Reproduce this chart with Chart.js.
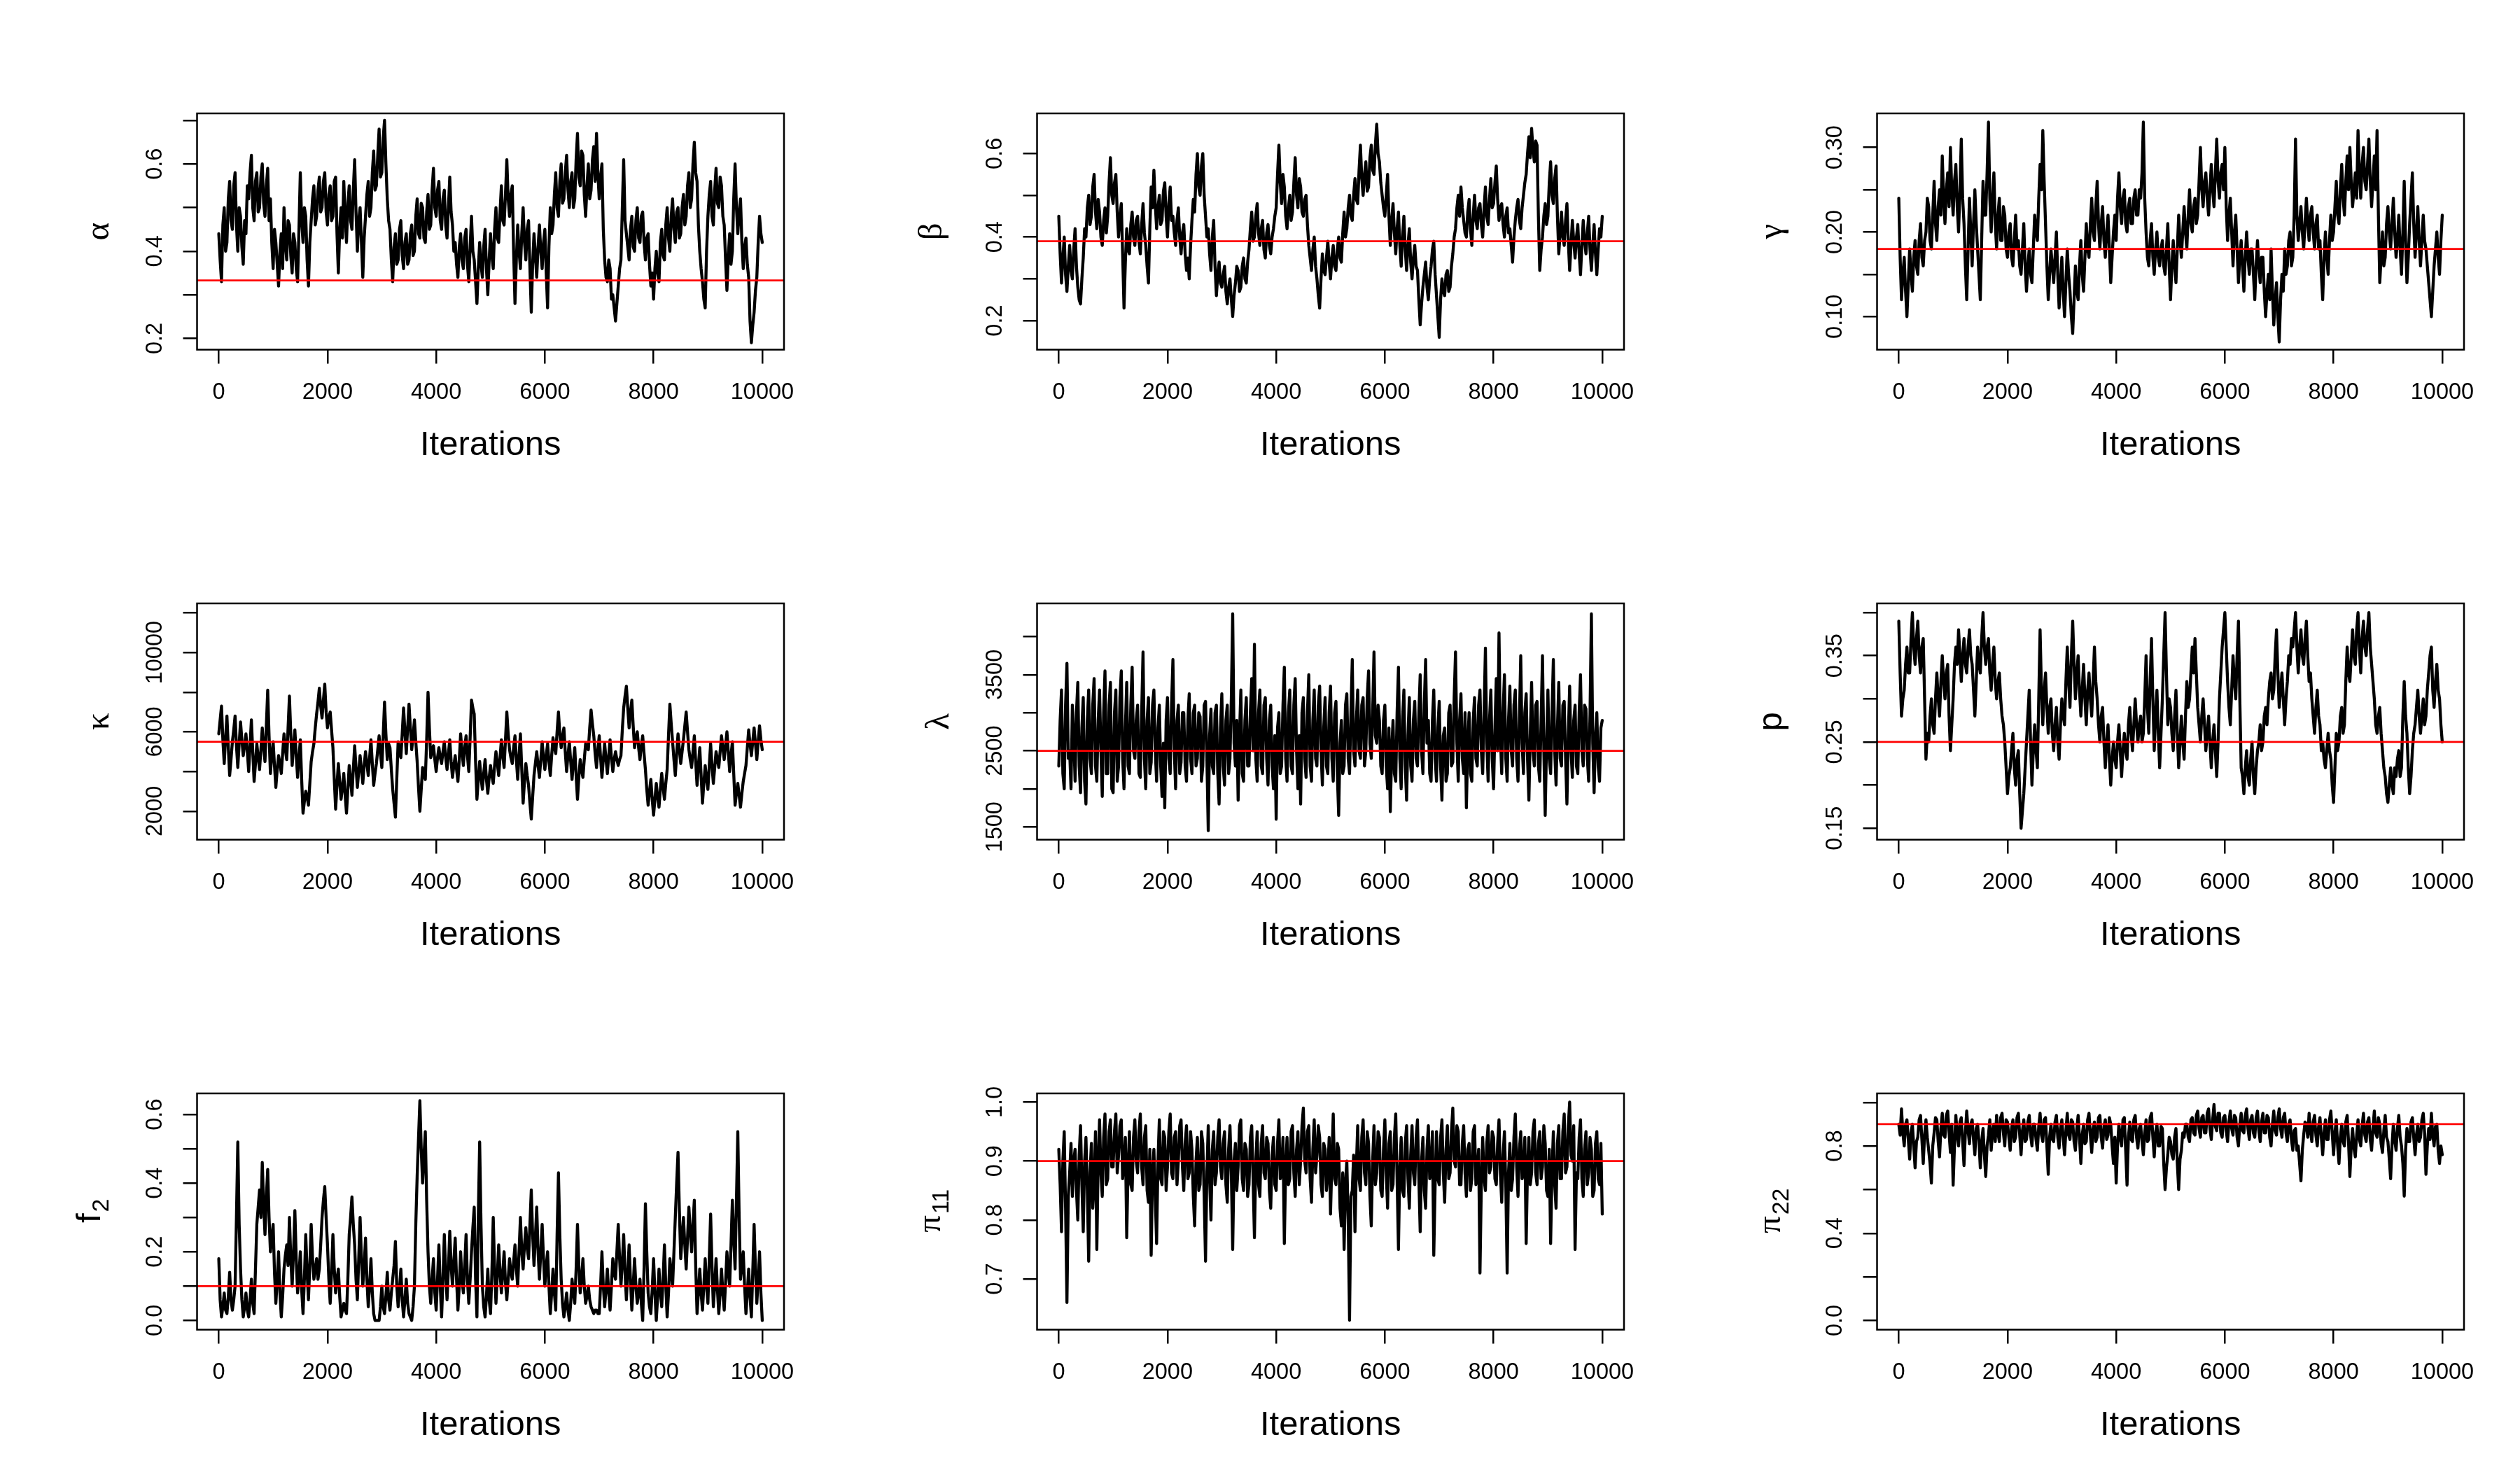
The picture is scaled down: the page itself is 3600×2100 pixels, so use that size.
<!DOCTYPE html>
<html>
<head>
<meta charset="utf-8">
<script src="https://cdn.jsdelivr.net/npm/chart.js@4.4.1/dist/chart.umd.min.js"></script>
<style>
html,body{margin:0;padding:0;background:#fff;width:3600px;height:2100px;overflow:hidden}
canvas{position:absolute}
</style>
</head>
<body>
<script>
// ---------- data (values evenly spaced over iterations 0..10000) ----------
const lastIteration = 10000;
const xTicks = [0, 2000, 4000, 6000, 8000, 10000];
const xTickLabels = ['0', '2000', '4000', '6000', '8000', '10000'];
const xTitle = 'Iterations';

const alphaVals = [0.44,0.38,0.33,0.46,0.50,0.40,0.42,0.52,0.56,0.47,0.45,0.55,0.58,0.46,0.40,0.50,0.48,0.41,0.37,0.47,
0.44,0.55,0.52,0.58,0.62,0.50,0.47,0.56,0.58,0.49,0.50,0.57,0.60,0.51,0.48,0.55,0.59,0.47,0.52,0.42,
0.36,0.45,0.42,0.37,0.32,0.40,0.44,0.36,0.50,0.42,0.38,0.47,0.46,0.39,0.35,0.44,0.42,0.36,0.33,0.45,
0.58,0.47,0.42,0.50,0.48,0.38,0.32,0.42,0.47,0.52,0.55,0.46,0.48,0.54,0.57,0.49,0.50,0.56,0.58,0.49,
0.46,0.53,0.55,0.47,0.48,0.56,0.57,0.44,0.35,0.45,0.50,0.43,0.56,0.48,0.42,0.51,0.55,0.47,0.45,0.54,
0.61,0.49,0.40,0.47,0.50,0.42,0.34,0.43,0.48,0.53,0.56,0.48,0.50,0.58,0.63,0.54,0.55,0.62,0.68,0.57,
0.58,0.66,0.70,0.60,0.52,0.47,0.45,0.38,0.33,0.41,0.44,0.37,0.38,0.45,0.47,0.39,0.36,0.42,0.44,0.37,
0.38,0.44,0.46,0.39,0.40,0.48,0.52,0.44,0.43,0.51,0.50,0.43,0.42,0.49,0.53,0.45,0.46,0.54,0.59,0.50,
0.48,0.54,0.56,0.47,0.45,0.52,0.54,0.46,0.43,0.50,0.57,0.49,0.46,0.40,0.42,0.37,0.34,0.41,0.44,0.38,
0.36,0.43,0.45,0.37,0.33,0.41,0.48,0.40,0.38,0.33,0.28,0.36,0.42,0.37,0.34,0.41,0.45,0.36,0.30,0.38,
0.44,0.39,0.36,0.45,0.50,0.43,0.42,0.49,0.55,0.47,0.46,0.53,0.61,0.52,0.48,0.53,0.55,0.40,0.28,0.38,
0.46,0.40,0.36,0.44,0.50,0.42,0.38,0.45,0.47,0.36,0.26,0.37,0.44,0.39,0.34,0.41,0.46,0.40,0.36,0.42,
0.45,0.35,0.27,0.41,0.50,0.44,0.46,0.53,0.58,0.50,0.48,0.56,0.60,0.51,0.52,0.58,0.62,0.54,0.50,0.56,
0.58,0.50,0.52,0.61,0.67,0.57,0.55,0.63,0.62,0.53,0.48,0.55,0.60,0.52,0.54,0.61,0.64,0.56,0.67,0.58,
0.52,0.57,0.60,0.45,0.38,0.34,0.33,0.38,0.36,0.29,0.30,0.27,0.24,0.28,0.32,0.36,0.38,0.50,0.61,0.47,
0.44,0.41,0.38,0.45,0.48,0.41,0.40,0.47,0.50,0.43,0.42,0.48,0.49,0.42,0.38,0.43,0.44,0.37,0.32,0.35,
0.29,0.36,0.40,0.35,0.33,0.42,0.45,0.39,0.38,0.46,0.50,0.43,0.40,0.48,0.52,0.45,0.42,0.49,0.50,0.43,
0.44,0.50,0.53,0.46,0.48,0.55,0.58,0.50,0.52,0.60,0.65,0.58,0.56,0.46,0.40,0.36,0.33,0.29,0.27,0.40,
0.48,0.53,0.56,0.48,0.46,0.54,0.59,0.51,0.50,0.57,0.55,0.48,0.46,0.38,0.31,0.39,0.44,0.37,0.40,0.52,
0.60,0.50,0.44,0.49,0.52,0.42,0.36,0.41,0.43,0.37,0.34,0.24,0.19,0.23,0.26,0.31,0.34,0.42,0.48,0.44,
0.42];

const betaVals = [0.45,0.36,0.29,0.35,0.40,0.31,0.27,0.33,0.38,0.32,0.30,0.37,0.42,0.33,0.28,0.25,0.24,0.30,0.35,0.42,
0.40,0.47,0.50,0.43,0.45,0.52,0.55,0.46,0.42,0.49,0.46,0.40,0.38,0.44,0.47,0.41,0.45,0.53,0.59,0.50,
0.48,0.53,0.55,0.46,0.40,0.45,0.48,0.36,0.23,0.34,0.42,0.37,0.36,0.43,0.46,0.40,0.38,0.44,0.45,0.39,
0.36,0.43,0.48,0.41,0.38,0.33,0.29,0.42,0.52,0.47,0.56,0.48,0.42,0.47,0.50,0.43,0.44,0.51,0.53,0.45,
0.40,0.48,0.52,0.44,0.45,0.41,0.38,0.44,0.47,0.40,0.36,0.41,0.43,0.36,0.32,0.35,0.30,0.38,0.44,0.49,
0.46,0.55,0.60,0.52,0.50,0.57,0.60,0.50,0.45,0.40,0.42,0.36,0.32,0.40,0.44,0.33,0.26,0.31,0.34,0.29,
0.28,0.31,0.33,0.27,0.24,0.28,0.30,0.25,0.21,0.26,0.29,0.33,0.32,0.27,0.28,0.33,0.35,0.30,0.29,0.34,
0.37,0.42,0.46,0.39,0.40,0.45,0.48,0.41,0.38,0.42,0.44,0.37,0.35,0.41,0.43,0.38,0.36,0.40,0.42,0.45,
0.47,0.55,0.62,0.53,0.48,0.55,0.52,0.45,0.42,0.47,0.50,0.44,0.46,0.53,0.59,0.50,0.47,0.54,0.52,0.46,
0.45,0.49,0.50,0.43,0.38,0.35,0.32,0.37,0.40,0.33,0.30,0.26,0.23,0.30,0.36,0.32,0.31,0.35,0.39,0.34,
0.30,0.35,0.38,0.33,0.32,0.37,0.40,0.35,0.34,0.41,0.46,0.40,0.42,0.47,0.50,0.45,0.44,0.50,0.54,0.49,
0.48,0.56,0.62,0.54,0.50,0.55,0.58,0.51,0.52,0.59,0.62,0.56,0.55,0.62,0.67,0.60,0.58,0.53,0.50,0.47,
0.45,0.50,0.55,0.45,0.38,0.44,0.48,0.41,0.36,0.42,0.46,0.38,0.33,0.40,0.45,0.37,0.32,0.38,0.42,0.34,
0.30,0.35,0.38,0.33,0.32,0.25,0.19,0.24,0.28,0.31,0.34,0.28,0.25,0.30,0.33,0.37,0.39,0.31,0.26,0.21,
0.16,0.25,0.30,0.27,0.26,0.31,0.32,0.27,0.28,0.33,0.36,0.40,0.42,0.47,0.50,0.45,0.52,0.47,0.44,0.41,
0.40,0.46,0.49,0.42,0.38,0.45,0.50,0.44,0.42,0.47,0.48,0.43,0.40,0.47,0.52,0.45,0.43,0.49,0.54,0.47,
0.48,0.53,0.57,0.49,0.44,0.47,0.48,0.43,0.40,0.45,0.47,0.41,0.42,0.38,0.34,0.40,0.44,0.47,0.49,0.44,
0.42,0.47,0.50,0.53,0.55,0.60,0.64,0.59,0.66,0.61,0.58,0.63,0.62,0.45,0.32,0.37,0.40,0.45,0.48,0.43,
0.45,0.53,0.58,0.50,0.48,0.54,0.57,0.45,0.36,0.41,0.46,0.40,0.38,0.44,0.48,0.39,0.32,0.38,0.44,0.39,
0.35,0.40,0.43,0.36,0.31,0.38,0.44,0.39,0.36,0.41,0.45,0.37,0.32,0.38,0.43,0.36,0.31,0.37,0.42,0.40,
0.45];

const gammaVals = [0.24,0.17,0.12,0.15,0.17,0.13,0.10,0.14,0.18,0.15,0.13,0.17,0.19,0.16,0.15,0.19,0.21,0.17,0.16,0.19,
0.20,0.24,0.23,0.19,0.18,0.22,0.26,0.21,0.19,0.23,0.25,0.22,0.29,0.24,0.21,0.25,0.27,0.23,0.30,0.25,
0.22,0.26,0.28,0.23,0.20,0.25,0.31,0.24,0.21,0.16,0.12,0.18,0.24,0.20,0.16,0.21,0.25,0.21,0.18,0.15,
0.12,0.19,0.26,0.22,0.22,0.27,0.33,0.24,0.20,0.24,0.27,0.21,0.18,0.22,0.24,0.19,0.19,0.23,0.22,0.18,
0.17,0.20,0.21,0.17,0.16,0.19,0.22,0.18,0.19,0.16,0.15,0.18,0.21,0.16,0.13,0.16,0.18,0.15,0.14,0.18,
0.22,0.20,0.19,0.24,0.28,0.25,0.32,0.26,0.21,0.16,0.12,0.15,0.18,0.16,0.14,0.17,0.20,0.15,0.11,0.14,
0.17,0.13,0.10,0.14,0.18,0.15,0.13,0.10,0.08,0.12,0.16,0.13,0.12,0.16,0.19,0.15,0.13,0.17,0.21,0.18,
0.17,0.21,0.24,0.20,0.19,0.23,0.26,0.21,0.18,0.21,0.23,0.19,0.17,0.20,0.22,0.18,0.14,0.17,0.20,0.22,
0.19,0.24,0.27,0.23,0.21,0.24,0.25,0.21,0.20,0.23,0.24,0.21,0.21,0.24,0.25,0.22,0.22,0.25,0.24,0.27,
0.33,0.24,0.20,0.17,0.16,0.19,0.21,0.17,0.15,0.18,0.20,0.17,0.16,0.18,0.19,0.16,0.15,0.18,0.21,0.16,
0.12,0.16,0.19,0.16,0.14,0.18,0.22,0.19,0.17,0.20,0.23,0.20,0.18,0.22,0.25,0.21,0.20,0.23,0.24,0.21,
0.22,0.26,0.30,0.25,0.23,0.26,0.27,0.24,0.22,0.25,0.28,0.25,0.23,0.27,0.31,0.26,0.24,0.27,0.28,0.25,
0.30,0.23,0.19,0.22,0.24,0.20,0.16,0.20,0.22,0.18,0.14,0.17,0.19,0.16,0.13,0.17,0.20,0.17,0.15,0.18,
0.18,0.15,0.12,0.16,0.19,0.16,0.14,0.17,0.17,0.13,0.10,0.13,0.15,0.12,0.18,0.13,0.09,0.12,0.14,0.10,
0.07,0.12,0.15,0.13,0.18,0.15,0.16,0.19,0.20,0.16,0.17,0.22,0.31,0.22,0.19,0.21,0.23,0.20,0.18,0.21,
0.24,0.21,0.19,0.22,0.23,0.20,0.18,0.21,0.22,0.18,0.19,0.15,0.12,0.17,0.20,0.17,0.15,0.19,0.22,0.19,
0.20,0.23,0.26,0.22,0.21,0.25,0.28,0.24,0.22,0.26,0.29,0.25,0.30,0.26,0.23,0.25,0.27,0.24,0.32,0.27,
0.24,0.28,0.30,0.26,0.25,0.28,0.31,0.26,0.23,0.26,0.29,0.25,0.32,0.22,0.14,0.17,0.20,0.16,0.17,0.21,
0.23,0.20,0.18,0.21,0.24,0.20,0.17,0.19,0.22,0.18,0.15,0.20,0.26,0.19,0.14,0.17,0.21,0.24,0.27,0.21,
0.17,0.20,0.23,0.19,0.16,0.19,0.22,0.19,0.18,0.16,0.14,0.12,0.10,0.13,0.16,0.18,0.20,0.17,0.15,0.19,
0.22];

const kappaVals = [5900,6600,7300,5600,4400,5700,6800,5200,3800,4600,5500,6100,6800,5300,4200,5400,6500,5600,4800,5300,
5900,5000,4000,5300,6600,5000,3500,4400,5400,4700,4100,5100,6200,5200,4500,6300,8100,5800,3900,4800,
5500,4300,3200,4100,4800,4400,3900,4900,5900,5100,4600,6200,7800,5900,4300,5200,6100,4800,3700,4700,
5600,3600,1900,2500,3000,2700,2300,3400,4500,5000,5400,6200,6900,7500,8200,7300,6700,7600,8400,7000,
6200,6700,7000,6100,5200,3600,2100,3300,4400,3500,2600,3200,3900,2800,1900,3100,4300,3600,2800,4100,
5300,4200,3200,4000,4800,4100,3400,4300,5000,4400,3800,4700,5600,4400,3300,3900,4400,5100,5800,4900,
4200,5800,7500,5900,4600,5400,5200,4100,3100,2400,1700,3600,5500,5000,4700,5900,7200,6000,4900,6200,
7400,6200,5100,5800,6600,5500,4500,3200,2000,3100,4200,3800,3600,5600,8000,6200,4700,5000,5300,4600,
4000,4700,5200,4700,4400,5000,5500,4700,4100,4900,5600,4500,3700,4300,4800,4100,3500,4600,5900,5000,
4300,5200,5800,4800,4000,5700,7600,7200,6900,4500,2600,3600,4500,3700,3100,3900,4600,3600,2900,3700,
4300,3800,3400,4300,5000,4400,3800,4700,5600,4800,4200,5600,7000,5900,5100,4700,4400,5200,5800,4600,
3600,4800,5900,4100,2400,3500,4400,3800,3300,2400,1600,2700,3800,4400,5000,4300,3700,4600,5500,4700,
4100,4800,5400,4500,3800,4800,5700,5200,4900,6000,7000,5900,5200,5800,6200,5000,4000,4800,5500,4500,
3600,4500,5200,3800,2600,3700,4600,4100,3700,4600,5400,5200,5100,6200,7100,6400,5800,4900,4200,5100,
5800,4700,3700,4600,5400,4600,3900,4800,5600,4700,4000,4600,5000,4600,4300,4600,4800,6100,7200,7800,
8300,7200,6200,7000,7600,6300,5200,5700,6000,5200,4600,5300,5800,4900,4100,3100,2300,3000,3600,2600,
1800,2600,3400,2700,2200,3100,3900,3200,2600,3400,4100,5800,7400,6400,5500,4600,3800,4900,5900,5100,
4400,5000,5600,6300,7000,6000,5100,4600,4200,5000,5800,4500,3300,4300,5200,3800,2400,3400,4300,3600,
3100,4300,5400,4300,3400,4200,5000,4600,4200,5000,5800,5200,4600,5300,6000,5000,4000,4800,5500,3900,
2300,2900,3400,2800,2200,2900,3500,3900,4300,5200,6100,5400,4800,5500,6200,5400,4600,5500,6300,5600,
5100];

const lambdaVals = [2300,2900,3300,2200,2000,3100,3650,2400,2500,2000,3100,2700,2100,3000,3400,2300,1950,2800,3200,2100,
1800,2900,3300,2400,2200,3100,3450,2300,2100,2900,3300,2500,1900,3000,3550,2200,2200,3100,3400,2000,
1950,3000,3300,2100,2300,3200,3550,2400,2000,2800,3400,2300,2200,3100,3600,2500,2400,2900,3100,2200,
2150,3000,3800,2400,2000,2900,3200,2200,2350,3100,3300,2500,2100,2800,3100,2300,1900,2600,1750,2900,
3200,2400,2200,3100,3700,2500,2000,2900,3100,2200,2350,3000,3000,2300,2100,2900,3250,2400,2200,3000,
3100,2300,2400,3000,2950,2100,2300,3100,3150,2400,1450,2700,3050,2300,2200,3000,3100,2200,1800,2800,
3250,2300,2050,2900,3100,2200,2400,3200,4300,2600,2300,2900,1850,2700,3300,2200,2100,2900,3200,2300,
2300,3000,3450,2500,3900,2400,2100,3000,3300,2300,2200,3100,3200,2400,2050,2900,3100,2300,2000,2700,
1600,2800,3000,2200,2300,3100,3600,2400,2100,3000,3300,2300,2200,3100,3450,2500,2000,2700,1800,3000,
3200,2400,2150,3000,3500,2300,2100,2900,3300,2400,2300,3100,3350,2500,2050,2800,3200,2300,2200,3000,
3350,2400,2100,3000,3150,2200,1650,2600,2900,2200,2300,3100,3250,2400,2200,3000,3700,2500,2300,2900,
3300,2500,2400,3100,3200,2300,2500,3200,3550,2600,2400,3000,3800,2700,2600,3100,2900,2300,2200,2900,
3100,2300,2000,2800,1700,2500,2900,2200,2100,3000,3600,2400,2000,2900,3300,2300,1850,2700,3200,2300,
2100,2900,3150,2400,2300,3000,3500,2500,2200,3100,3700,2600,2900,2200,2100,2900,3300,2400,2100,2800,
3150,2300,1850,2700,2800,2100,2200,3000,3100,2300,2350,3200,3800,2600,2100,2900,3250,2400,2200,3000,
1750,2600,3000,2200,2100,2900,3200,2400,2300,3100,3300,2500,2200,3000,3850,2600,2100,2900,3300,2400,
2000,2800,3450,2500,4050,2700,2200,3000,3500,2400,2100,2900,3350,2500,2300,3100,3300,2400,2100,2900,
3750,2600,2200,3000,3250,2400,1850,2700,3400,2500,2300,3100,3150,2300,2100,2900,3750,2500,1650,2600,
3300,2400,2200,3000,3700,2500,2050,2800,3400,2400,2300,3100,3150,2400,1800,2700,3350,2500,2150,2900,
3100,2300,2200,3000,3500,2500,2300,3100,3050,2400,2100,3000,4300,2600,1950,2700,3000,2300,2100,2800,
2900];

const pVals = [0.39,0.33,0.28,0.30,0.31,0.34,0.36,0.33,0.33,0.37,0.40,0.36,0.34,0.37,0.39,0.35,0.33,0.36,0.37,0.30,
0.23,0.26,0.25,0.28,0.30,0.27,0.26,0.30,0.33,0.30,0.28,0.32,0.35,0.32,0.30,0.33,0.34,0.28,0.24,0.27,
0.30,0.34,0.36,0.34,0.38,0.35,0.32,0.35,0.37,0.34,0.33,0.36,0.38,0.35,0.34,0.31,0.28,0.32,0.36,0.34,
0.33,0.37,0.40,0.36,0.34,0.36,0.37,0.33,0.31,0.34,0.36,0.32,0.30,0.32,0.33,0.30,0.28,0.27,0.25,0.22,
0.19,0.21,0.22,0.24,0.26,0.22,0.20,0.23,0.24,0.19,0.15,0.17,0.19,0.22,0.25,0.28,0.31,0.25,0.20,0.24,
0.27,0.24,0.22,0.30,0.38,0.31,0.27,0.31,0.33,0.29,0.26,0.29,0.30,0.26,0.24,0.27,0.29,0.25,0.23,0.27,
0.30,0.28,0.27,0.32,0.36,0.32,0.29,0.35,0.39,0.34,0.30,0.33,0.35,0.31,0.28,0.31,0.34,0.30,0.27,0.31,
0.33,0.30,0.28,0.32,0.36,0.32,0.30,0.27,0.25,0.28,0.29,0.25,0.22,0.25,0.27,0.23,0.20,0.23,0.25,0.23,
0.22,0.25,0.27,0.24,0.21,0.24,0.26,0.24,0.23,0.27,0.29,0.26,0.24,0.27,0.30,0.27,0.25,0.27,0.28,0.25,
0.26,0.30,0.35,0.29,0.26,0.32,0.37,0.30,0.24,0.28,0.31,0.26,0.22,0.26,0.30,0.35,0.40,0.33,0.27,0.30,
0.29,0.26,0.24,0.28,0.31,0.26,0.22,0.25,0.28,0.25,0.23,0.28,0.32,0.29,0.30,0.33,0.36,0.33,0.37,0.33,
0.29,0.27,0.25,0.28,0.30,0.27,0.24,0.26,0.28,0.25,0.22,0.25,0.27,0.24,0.21,0.25,0.30,0.33,0.36,0.38,
0.40,0.36,0.32,0.29,0.27,0.31,0.35,0.32,0.30,0.35,0.39,0.30,0.22,0.21,0.19,0.22,0.24,0.21,0.20,0.23,
0.25,0.21,0.19,0.22,0.24,0.25,0.27,0.24,0.25,0.28,0.29,0.27,0.30,0.32,0.33,0.30,0.31,0.35,0.38,0.33,
0.29,0.31,0.33,0.30,0.27,0.30,0.32,0.35,0.34,0.37,0.36,0.38,0.40,0.36,0.33,0.36,0.38,0.35,0.34,0.37,
0.39,0.35,0.32,0.33,0.30,0.28,0.26,0.29,0.31,0.28,0.27,0.24,0.25,0.23,0.22,0.24,0.26,0.24,0.23,0.20,
0.18,0.22,0.26,0.24,0.25,0.28,0.29,0.26,0.27,0.32,0.36,0.33,0.32,0.35,0.38,0.35,0.34,0.38,0.40,0.36,
0.33,0.37,0.39,0.36,0.35,0.38,0.40,0.36,0.34,0.32,0.30,0.27,0.26,0.28,0.29,0.26,0.24,0.22,0.21,0.19,
0.18,0.20,0.22,0.20,0.19,0.22,0.21,0.23,0.24,0.21,0.22,0.28,0.32,0.28,0.26,0.22,0.19,0.21,0.24,0.26,
0.27,0.29,0.31,0.28,0.26,0.28,0.30,0.27,0.28,0.31,0.33,0.35,0.36,0.31,0.29,0.32,0.34,0.31,0.30,0.27,
0.25];

const f2Vals = [0.18,0.06,0.01,0.04,0.08,0.03,0.02,0.07,0.14,0.06,0.03,0.06,0.10,0.30,0.52,0.28,0.15,0.06,0.01,0.04,
0.08,0.03,0.01,0.06,0.12,0.05,0.02,0.15,0.28,0.33,0.38,0.30,0.46,0.34,0.25,0.36,0.44,0.30,0.20,0.24,
0.28,0.14,0.05,0.12,0.20,0.08,0.01,0.07,0.15,0.19,0.22,0.16,0.30,0.18,0.10,0.20,0.32,0.18,0.08,0.13,
0.20,0.09,0.02,0.12,0.25,0.14,0.06,0.16,0.28,0.18,0.12,0.15,0.18,0.12,0.15,0.22,0.30,0.35,0.39,0.30,
0.22,0.12,0.05,0.14,0.25,0.15,0.08,0.12,0.15,0.07,0.01,0.03,0.05,0.03,0.02,0.12,0.25,0.30,0.36,0.28,
0.22,0.12,0.06,0.18,0.30,0.18,0.10,0.16,0.24,0.12,0.04,0.10,0.18,0.08,0.02,0.00,0.00,0.00,0.00,0.04,
0.10,0.04,0.02,0.07,0.14,0.06,0.03,0.08,0.12,0.16,0.23,0.10,0.04,0.09,0.15,0.06,0.01,0.06,0.12,0.05,
0.02,0.01,0.00,0.04,0.10,0.28,0.42,0.53,0.64,0.50,0.40,0.48,0.55,0.35,0.20,0.10,0.05,0.12,0.18,0.08,
0.03,0.12,0.22,0.10,0.01,0.12,0.25,0.14,0.06,0.15,0.26,0.16,0.10,0.17,0.24,0.12,0.03,0.10,0.20,0.12,
0.08,0.16,0.25,0.12,0.05,0.12,0.20,0.27,0.33,0.12,0.01,0.30,0.52,0.28,0.10,0.04,0.01,0.07,0.15,0.06,
0.02,0.14,0.30,0.15,0.05,0.13,0.22,0.14,0.08,0.14,0.20,0.11,0.06,0.12,0.18,0.14,0.12,0.17,0.22,0.15,
0.10,0.20,0.30,0.20,0.15,0.22,0.27,0.21,0.18,0.28,0.38,0.25,0.16,0.24,0.33,0.20,0.12,0.20,0.28,0.18,
0.10,0.16,0.20,0.10,0.02,0.08,0.15,0.08,0.03,0.25,0.43,0.25,0.12,0.05,0.01,0.04,0.08,0.03,0.00,0.05,
0.12,0.08,0.05,0.15,0.28,0.16,0.08,0.12,0.18,0.10,0.05,0.07,0.10,0.06,0.04,0.03,0.02,0.03,0.03,0.02,
0.02,0.10,0.20,0.10,0.04,0.09,0.15,0.08,0.03,0.10,0.18,0.14,0.12,0.20,0.28,0.18,0.10,0.17,0.25,0.14,
0.06,0.14,0.22,0.12,0.03,0.10,0.18,0.10,0.05,0.08,0.12,0.05,0.00,0.15,0.34,0.20,0.08,0.04,0.02,0.09,
0.18,0.08,0.00,0.07,0.15,0.08,0.04,0.12,0.22,0.10,0.01,0.08,0.18,0.14,0.10,0.20,0.30,0.40,0.49,0.32,
0.18,0.24,0.30,0.22,0.15,0.24,0.33,0.26,0.20,0.28,0.35,0.16,0.02,0.08,0.15,0.08,0.03,0.10,0.18,0.10,
0.05,0.18,0.31,0.16,0.04,0.10,0.18,0.09,0.02,0.08,0.15,0.08,0.03,0.11,0.20,0.14,0.10,0.22,0.35,0.24,
0.15,0.35,0.55,0.30,0.12,0.16,0.20,0.10,0.02,0.08,0.15,0.07,0.01,0.14,0.28,0.15,0.05,0.12,0.20,0.08,
0.00];

const pi11Vals = [0.92,0.86,0.78,0.90,0.95,0.82,0.66,0.84,0.88,0.93,0.84,0.90,0.92,0.85,0.80,0.91,0.96,0.86,0.78,0.90,
0.94,0.85,0.73,0.88,0.93,0.82,0.86,0.95,0.75,0.90,0.97,0.88,0.84,0.94,0.98,0.86,0.87,0.95,0.97,0.89,
0.89,0.95,0.98,0.88,0.91,0.96,0.97,0.87,0.90,0.94,0.77,0.89,0.95,0.86,0.85,0.94,0.97,0.90,0.88,0.95,
0.98,0.89,0.86,0.94,0.96,0.85,0.83,0.92,0.74,0.88,0.92,0.84,0.76,0.90,0.97,0.87,0.86,0.95,0.94,0.85,
0.89,0.95,0.98,0.88,0.87,0.94,0.95,0.86,0.90,0.96,0.97,0.89,0.85,0.93,0.96,0.87,0.88,0.95,0.92,0.84,
0.79,0.90,0.94,0.85,0.86,0.95,0.93,0.84,0.73,0.88,0.96,0.87,0.80,0.92,0.95,0.86,0.88,0.94,0.97,0.89,
0.87,0.93,0.95,0.86,0.83,0.92,0.96,0.88,0.75,0.90,0.93,0.85,0.89,0.96,0.97,0.87,0.85,0.93,0.92,0.84,
0.86,0.94,0.96,0.87,0.77,0.90,0.95,0.86,0.84,0.93,0.96,0.88,0.87,0.94,0.93,0.85,0.82,0.91,0.94,0.86,
0.85,0.93,0.97,0.87,0.88,0.94,0.76,0.89,0.94,0.86,0.87,0.95,0.96,0.88,0.84,0.92,0.95,0.86,0.90,0.96,
0.99,0.90,0.88,0.95,0.96,0.87,0.83,0.92,0.97,0.88,0.91,0.96,0.94,0.86,0.84,0.93,0.92,0.85,0.88,0.94,
0.81,0.90,0.98,0.87,0.86,0.93,0.92,0.82,0.79,0.88,0.75,0.86,0.90,0.80,0.63,0.84,0.85,0.91,0.78,0.89,
0.96,0.87,0.85,0.94,0.97,0.88,0.86,0.95,0.93,0.84,0.79,0.90,0.96,0.86,0.88,0.95,0.94,0.85,0.84,0.92,
0.97,0.88,0.82,0.93,0.95,0.85,0.86,0.94,0.98,0.87,0.75,0.89,0.94,0.85,0.84,0.93,0.96,0.87,0.82,0.91,
0.96,0.88,0.86,0.94,0.97,0.87,0.78,0.90,0.94,0.85,0.82,0.92,0.96,0.87,0.88,0.95,0.74,0.86,0.95,0.87,
0.86,0.94,0.97,0.88,0.83,0.92,0.96,0.87,0.88,0.95,0.99,0.90,0.89,0.96,0.95,0.86,0.86,0.93,0.96,0.88,
0.84,0.92,0.93,0.85,0.87,0.95,0.96,0.86,0.88,0.92,0.71,0.86,0.94,0.87,0.85,0.93,0.96,0.88,0.89,0.95,
0.94,0.87,0.86,0.93,0.97,0.88,0.83,0.91,0.95,0.86,0.71,0.88,0.93,0.85,0.87,0.94,0.98,0.89,0.84,0.92,
0.95,0.87,0.88,0.94,0.76,0.89,0.94,0.86,0.88,0.95,0.97,0.88,0.86,0.93,0.95,0.87,0.89,0.96,0.93,0.85,
0.84,0.92,0.76,0.88,0.95,0.86,0.82,0.93,0.96,0.87,0.87,0.95,0.98,0.88,0.89,0.96,1.00,0.91,0.90,0.96,
0.75,0.88,0.87,0.94,0.97,0.87,0.84,0.92,0.95,0.86,0.88,0.94,0.92,0.84,0.85,0.93,0.95,0.87,0.86,0.93,
0.81];

const pi22Vals = [0.90,0.85,0.97,0.86,0.80,0.90,0.92,0.83,0.74,0.86,0.90,0.80,0.70,0.82,0.84,0.92,0.94,0.83,0.72,0.85,
0.92,0.84,0.78,0.72,0.63,0.80,0.86,0.93,0.92,0.82,0.75,0.88,0.95,0.85,0.84,0.94,0.96,0.86,0.77,0.90,
0.62,0.80,0.94,0.85,0.80,0.91,0.93,0.82,0.71,0.86,0.96,0.87,0.81,0.90,0.92,0.83,0.76,0.88,0.90,0.82,
0.70,0.82,0.88,0.76,0.66,0.80,0.85,0.92,0.78,0.86,0.90,0.82,0.94,0.86,0.82,0.93,0.95,0.86,0.80,0.92,
0.91,0.84,0.78,0.88,0.92,0.82,0.84,0.93,0.95,0.85,0.76,0.87,0.92,0.82,0.83,0.91,0.94,0.85,0.80,0.90,
0.90,0.83,0.78,0.89,0.95,0.85,0.82,0.92,0.93,0.80,0.67,0.84,0.90,0.83,0.82,0.91,0.94,0.84,0.79,0.88,
0.92,0.84,0.76,0.87,0.95,0.85,0.83,0.92,0.91,0.82,0.78,0.88,0.94,0.84,0.72,0.85,0.90,0.81,0.82,0.92,
0.95,0.85,0.77,0.88,0.91,0.82,0.84,0.93,0.94,0.84,0.79,0.89,0.92,0.83,0.85,0.93,0.90,0.80,0.72,0.84,
0.63,0.80,0.90,0.84,0.80,0.92,0.93,0.78,0.62,0.84,0.91,0.83,0.82,0.92,0.94,0.84,0.79,0.88,0.90,0.82,
0.76,0.86,0.92,0.82,0.83,0.93,0.95,0.84,0.75,0.86,0.90,0.80,0.80,0.89,0.88,0.72,0.60,0.70,0.76,0.84,
0.82,0.76,0.74,0.84,0.88,0.72,0.60,0.74,0.78,0.86,0.84,0.90,0.90,0.84,0.82,0.92,0.93,0.86,0.85,0.94,
0.96,0.88,0.84,0.93,0.94,0.86,0.86,0.95,0.97,0.88,0.83,0.92,0.99,0.89,0.87,0.95,0.95,0.86,0.84,0.93,
0.94,0.87,0.82,0.91,0.96,0.88,0.85,0.94,0.93,0.84,0.80,0.90,0.95,0.87,0.86,0.94,0.97,0.88,0.83,0.92,
0.94,0.86,0.84,0.93,0.96,0.87,0.82,0.91,0.95,0.86,0.86,0.94,0.93,0.84,0.80,0.90,0.96,0.87,0.85,0.93,
0.97,0.88,0.84,0.93,0.95,0.86,0.82,0.90,0.92,0.83,0.78,0.87,0.88,0.78,0.80,0.72,0.64,0.78,0.85,0.91,
0.90,0.84,0.95,0.87,0.82,0.91,0.94,0.85,0.80,0.89,0.93,0.84,0.76,0.86,0.92,0.83,0.83,0.92,0.96,0.86,
0.76,0.86,0.92,0.80,0.72,0.84,0.90,0.82,0.80,0.91,0.94,0.82,0.66,0.80,0.88,0.79,0.75,0.85,0.92,0.83,
0.80,0.89,0.95,0.85,0.82,0.91,0.93,0.83,0.78,0.88,0.96,0.86,0.84,0.93,0.90,0.81,0.77,0.87,0.94,0.84,
0.82,0.74,0.65,0.80,0.90,0.83,0.78,0.88,0.94,0.84,0.80,0.72,0.57,0.78,0.88,0.82,0.82,0.91,0.93,0.84,
0.76,0.85,0.90,0.82,0.84,0.92,0.95,0.86,0.67,0.80,0.88,0.83,0.95,0.85,0.80,0.89,0.90,0.78,0.72,0.80,
0.76];

// true parameter values (red lines)
const alphaTrue = 0.333, betaTrue = 0.39, gammaTrue = 0.18;
const kappaTrue = 5500, lambdaTrue = 2500, pTrue = 0.25;
const f2True = 0.1, pi11True = 0.9, pi22True = 0.9;

// y tick values and labels ('' = tick mark without label, as R drops overlapping labels)
const alphaTicks = [0.2,0.3,0.4,0.5,0.6,0.7];         const alphaTickLabels = ['0.2','','0.4','','0.6',''];
const betaTicks = [0.2,0.3,0.4,0.5,0.6];              const betaTickLabels = ['0.2','','0.4','','0.6'];
const gammaTicks = [0.10,0.15,0.20,0.25,0.30];        const gammaTickLabels = ['0.10','','0.20','','0.30'];
const kappaTicks = [2000,4000,6000,8000,10000,12000]; const kappaTickLabels = ['2000','','6000','','10000',''];
const lambdaTicks = [1500,2000,2500,3000,3500,4000];  const lambdaTickLabels = ['1500','','2500','','3500',''];
const pTicks = [0.15,0.20,0.25,0.30,0.35,0.40];       const pTickLabels = ['0.15','','0.25','','0.35',''];
const f2Ticks = [0,0.1,0.2,0.3,0.4,0.5,0.6];          const f2TickLabels = ['0.0','','0.2','','0.4','','0.6'];
const pi11Ticks = [0.7,0.8,0.9,1.0];                  const pi11TickLabels = ['0.7','0.8','0.9','1.0'];
const pi22Ticks = [0,0.2,0.4,0.6,0.8,1.0];            const pi22TickLabels = ['0.0','','0.4','','0.8',''];

// ---------- panels ----------
const panels = [
  {vals: alphaVals,  truth: alphaTrue,  ticks: alphaTicks,  labels: alphaTickLabels,  sym: 'α', sub: '',   greek: true,  yMin: 0.1742, yMax: 0.716},
  {vals: betaVals,   truth: betaTrue,   ticks: betaTicks,   labels: betaTickLabels,   sym: 'β', sub: '',   greek: true,  yMin: 0.1306, yMax: 0.696},
  {vals: gammaVals,  truth: gammaTrue,  ticks: gammaTicks,  labels: gammaTickLabels,  sym: 'γ', sub: '',   greek: true,  yMin: 0.0609, yMax: 0.3403},
  {vals: kappaVals,  truth: kappaTrue,  ticks: kappaTicks,  labels: kappaTickLabels,  sym: 'κ', sub: '',   greek: true,  yMin: 564,    yMax: 12475},
  {vals: lambdaVals, truth: lambdaTrue, ticks: lambdaTicks, labels: lambdaTickLabels, sym: 'λ', sub: '',   greek: true,  yMin: 1332,   yMax: 4438},
  {vals: pVals,      truth: pTrue,      ticks: pTicks,      labels: pTickLabels,      sym: 'p', sub: '',   greek: false, yMin: 0.1368, yMax: 0.4106},
  {vals: f2Vals,     truth: f2True,     ticks: f2Ticks,     labels: f2TickLabels,     sym: 'f', sub: '2',  greek: false, yMin: -0.0268, yMax: 0.6614},
  {vals: pi11Vals,   truth: pi11True,   ticks: pi11Ticks,   labels: pi11TickLabels,   sym: 'π', sub: '11', greek: true,  yMin: 0.614,  yMax: 1.0148},
  {vals: pi22Vals,   truth: pi22True,   ticks: pi22Ticks,   labels: pi22TickLabels,   sym: 'π', sub: '22', greek: true,  yMin: -0.042, yMax: 1.041}
];

const SANS = '"Liberation Sans", Arial, Helvetica, sans-serif';
const SERIF = '"Liberation Serif", "Times New Roman", serif';
const CELL_W = 1200, CELL_H = 700;
const BOX_LEFT = 281.5, BOX_RIGHT = 1120, BOX_TOP = 162, BOX_BOTTOM = 499.5;

const rPlot = {
  id: 'rPlot',
  afterDraw(chart, args, o) {
    const {ctx, chartArea: a} = chart;
    const ys = chart.scales.y;
    ctx.save();
    ctx.strokeStyle = '#000';
    ctx.lineWidth = 2.5;
    ctx.strokeRect(a.left, a.top, a.right - a.left, a.bottom - a.top);
    // y tick labels, rotated parallel to the axis
    ctx.fillStyle = '#000';
    ctx.font = '32.5px ' + SANS;
    ctx.textAlign = 'center';
    ctx.textBaseline = 'middle';
    o.ticks.forEach((v, i) => {
      const lab = o.labels[i];
      if (!lab) return;
      const y = ys.getPixelForValue(v);
      ctx.save();
      ctx.translate(222, y);
      ctx.rotate(-Math.PI / 2);
      ctx.fillText(lab, 0, 0);
      ctx.restore();
    });
    // y axis title (symbol with optional subscript)
    const mainFont = '49px ' + (o.greek ? SERIF : SANS);
    const subFont = '34px ' + SANS;
    ctx.textBaseline = 'alphabetic';
    ctx.textAlign = 'left';
    ctx.font = mainFont;
    const m1 = ctx.measureText(o.sym);
    let w = m1.width, desc = m1.actualBoundingBoxDescent, w2 = 0;
    const shift = 12;
    if (o.sub) {
      ctx.font = subFont;
      const m2 = ctx.measureText(o.sub);
      w2 = m2.width;
      desc = Math.max(desc, m2.actualBoundingBoxDescent + shift);
    }
    const total = w + w2;
    const cy = (a.top + a.bottom) / 2;
    const base = 155 - desc;
    ctx.save();
    ctx.translate(base, cy);
    ctx.rotate(-Math.PI / 2);
    ctx.font = mainFont;
    ctx.fillText(o.sym, -total / 2, 0);
    if (o.sub) {
      ctx.font = subFont;
      ctx.fillText(o.sub, -total / 2 + w + 2, shift);
    }
    ctx.restore();
    ctx.restore();
  }
};

panels.forEach((p, k) => {
  const col = k % 3, row = Math.floor(k / 3);
  const cv = document.createElement('canvas');
  cv.width = CELL_W; cv.height = CELL_H;
  cv.style.left = (col * CELL_W) + 'px';
  cv.style.top = (row * CELL_H) + 'px';
  cv.style.width = CELL_W + 'px';
  cv.style.height = CELL_H + 'px';
  document.body.appendChild(cv);
  const step = lastIteration / (p.vals.length - 1);

  new Chart(cv, {
    type: 'line',
    data: {
      datasets: [
        {
          data: [{x: -400, y: p.truth}, {x: 10400, y: p.truth}],
          borderColor: '#ff0000', borderWidth: 2.7, pointRadius: 0, order: 0
        },
        {
          data: p.vals.map((v, i) => ({x: i * step, y: v})),
          borderColor: '#000000', borderWidth: 4.3, pointRadius: 0, tension: 0,
          borderJoinStyle: 'round', borderCapStyle: 'round', order: 1
        }
      ]
    },
    options: {
      responsive: false, animation: false, devicePixelRatio: 1,
      layout: {padding: {left: 0, top: BOX_TOP, right: CELL_W - BOX_RIGHT, bottom: 0}},
      plugins: {
        legend: {display: false}, tooltip: {enabled: false},
        rPlot: {ticks: p.ticks, labels: p.labels, sym: p.sym, sub: p.sub, greek: p.greek}
      },
      scales: {
        x: {
          type: 'linear', min: -400, max: 10400,
          afterBuildTicks: s => { s.ticks = xTicks.map(v => ({value: v})); },
          afterFit: s => { s.height = CELL_H - BOX_BOTTOM; },
          ticks: {
            autoSkip: false, maxRotation: 0, minRotation: 0, padding: 22.5,
            color: '#000', font: {family: SANS, size: 32.5},
            callback: (v, i) => xTickLabels[i]
          },
          grid: {display: true, drawOnChartArea: false, drawTicks: true, tickLength: 20, lineWidth: 2.5, color: '#000'},
          border: {display: false},
          title: {display: true, text: xTitle, color: '#000', font: {family: SANS, size: 49}, padding: {top: 0, bottom: 34.6}}
        },
        y: {
          type: 'linear', min: p.yMin, max: p.yMax,
          afterBuildTicks: s => { s.ticks = p.ticks.map(v => ({value: v})); },
          afterFit: s => { s.width = BOX_LEFT; },
          ticks: {display: false},
          grid: {display: true, drawOnChartArea: false, drawTicks: true, tickLength: 20, lineWidth: 2.5, color: '#000'},
          border: {display: false}
        }
      }
    },
    plugins: [rPlot]
  });
});
</script>
</body>
</html>
